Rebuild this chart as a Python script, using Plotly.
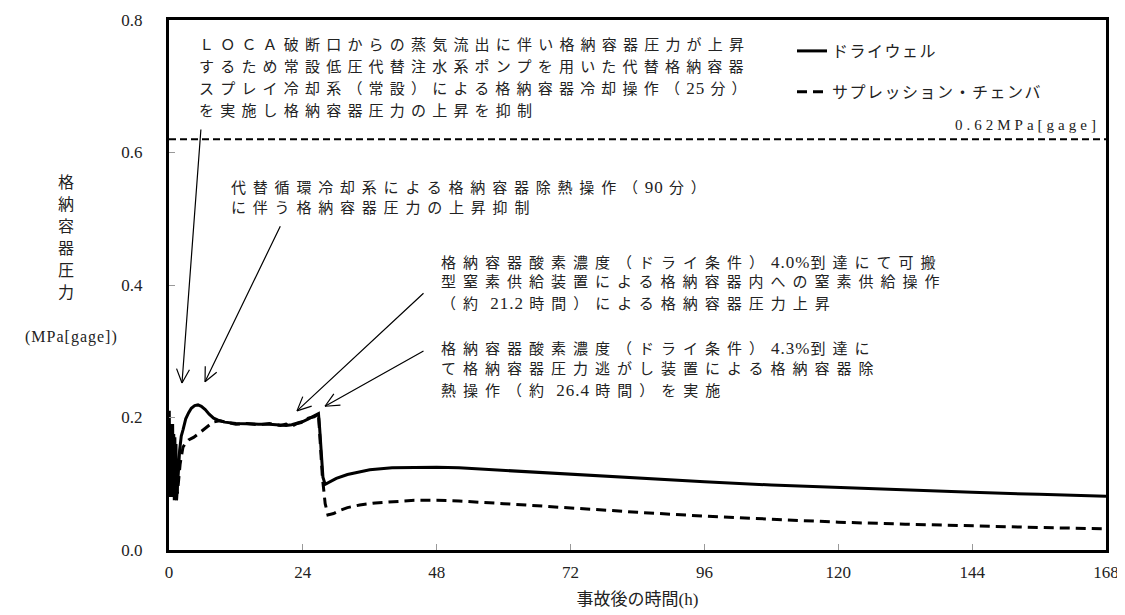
import math
import re
import plotly.graph_objects as go

# ---------------- data ----------------
time_dw = [0, 0.05, 0.15, 0.25, 0.35, 0.45, 0.55, 0.65, 0.75, 0.85, 0.95, 1.05, 1.15, 1.25, 1.35,
           1.5, 1.7, 1.9, 2.2, 2.5, 3.0, 3.5, 4.0, 4.6, 5.2, 5.8, 6.5, 7.2, 8.0, 8.8, 10, 12, 14,
           16, 18, 20, 21, 22, 23, 24, 25, 26, 26.8, 27.0, 27.3, 27.6, 28.0, 30, 32, 34, 36, 40,
           44, 48, 52, 56, 64, 72, 84, 96, 108, 120, 132, 144, 156, 168]
p_dw = [0.08, 0.21, 0.09, 0.19, 0.08, 0.18, 0.085, 0.19, 0.09, 0.175, 0.08, 0.17, 0.085, 0.16,
        0.075, 0.09, 0.12, 0.15, 0.172, 0.181, 0.198, 0.207, 0.214, 0.218, 0.219, 0.217, 0.212,
        0.205, 0.199, 0.196, 0.193, 0.191, 0.190, 0.190, 0.190, 0.189, 0.188, 0.189, 0.191,
        0.194, 0.198, 0.202, 0.206, 0.185, 0.140, 0.110, 0.099, 0.108, 0.114, 0.118, 0.121,
        0.124, 0.125, 0.125, 0.124, 0.122, 0.118, 0.114, 0.108, 0.103, 0.098, 0.094, 0.090,
        0.087, 0.084, 0.081]

time_sc = [0, 0.05, 0.15, 0.25, 0.35, 0.45, 0.55, 0.65, 0.75, 0.85, 0.95, 1.05, 1.15, 1.3,
           1.5, 1.7, 2.0, 2.5, 3.0, 3.5, 4.4, 5.2, 6.1, 7.0, 7.9, 9.0, 10, 12, 14, 16, 18, 20,
           21, 22, 23, 24, 25, 26, 26.8, 27.1, 27.5, 28.0, 28.5, 29.5, 30.7, 32, 34.2, 37, 40,
           44, 48, 52, 60, 72, 84, 96, 108, 120, 132, 144, 156, 168]
p_sc = [0.08, 0.17, 0.09, 0.175, 0.08, 0.165, 0.085, 0.17, 0.08, 0.16, 0.075, 0.15, 0.08, 0.12,
        0.085, 0.10, 0.13, 0.155, 0.162, 0.166, 0.170, 0.175, 0.181, 0.187, 0.193, 0.195,
        0.193, 0.190, 0.191, 0.189, 0.191, 0.188, 0.190, 0.187, 0.191, 0.193, 0.199, 0.201,
        0.205, 0.170, 0.110, 0.070, 0.053, 0.055, 0.060, 0.064, 0.068, 0.071, 0.073, 0.075,
        0.075, 0.074, 0.070, 0.063, 0.057, 0.051, 0.046, 0.042, 0.039, 0.036, 0.034, 0.032]

limit_value = [0.62]
x_ticks = [0, 24, 48, 72, 96, 120, 144, 168]
y_ticks = [0.0, 0.2, 0.4, 0.6, 0.8]
series_names = ["ドライウェル", "サプレッション・チェンバ"]
limit_label = "0.62MPa[gage]"
x_title = "事故後の時間(h)"
y_title_chars = "格納容器圧力"
y_unit = "(MPa[gage])"

note_loca = ["ＬＯＣＡ破断口からの蒸気流出に伴い格納容器圧力が上昇",
             "するため常設低圧代替注水系ポンプを用いた代替格納容器",
             "スプレイ冷却系（常設）による格納容器冷却操作（25 分）",
             "を実施し格納容器圧力の上昇を抑制"]
note_recirc = ["代替循環冷却系による格納容器除熱操作（90 分）",
               "に伴う格納容器圧力の上昇抑制"]
note_n2 = ["格納容器酸素濃度（ドライ条件）4.0%到達にて可搬",
           "型窒素供給装置による格納容器内への窒素供給操作",
           "（約 21.2 時間）による格納容器圧力上昇"]
note_vent = ["格納容器酸素濃度（ドライ条件）4.3%到達に",
             "て格納容器圧力逃がし装置による格納容器除",
             "熱操作（約 26.4 時間）を実施"]

# ---------------- styling helpers ----------------
SERIF = "Liberation Serif"
SERIF_TXT = "Liberation Serif, Noto Sans CJK JP"
CJK = "Noto Sans CJK JP"
TXT = "#222222"

# The page body has an 8px margin: the figure is sized so that the plot area
# sits at x 169..1106, y 20..550 in the 1125x615 window.
BODY = 8
W, H = 1125 - BODY, 615 - BODY
PL, PR, PT, PB = 169, 1106, 20, 550


def px_x(px):
    return (px - PL) / (PR - PL)


def px_y(py):
    return (PB - py) / (PB - PT)


def spaced(line, cjk=6.2, asc=1):
    parts = re.findall(r'[\x20-\x7e]+|[^\x20-\x7e]+', line)
    out = []
    for p in parts:
        if p[0].isascii():
            out.append(f'<span style="letter-spacing:{asc}px;font-size:17px">{p}</span>')
        else:
            out.append(f'<span style="letter-spacing:{cjk}px">{p}</span>')
    return "".join(out)


fig = go.Figure()

fig.add_trace(go.Scatter(x=time_dw, y=p_dw, mode="lines",
                         name=f'<span style="letter-spacing:1.5px">{series_names[0]}</span>',
                         legendgroup="a",
                         line=dict(color="black", width=3)))
fig.add_trace(go.Scatter(x=time_sc, y=p_sc, mode="lines",
                         name=f'<span style="letter-spacing:1.5px">{series_names[1]}</span>',
                         legendgroup="b",
                         line=dict(color="black", width=3, dash="10px,6px")))
fig.add_trace(go.Scatter(x=[x_ticks[0], x_ticks[-1]], y=[limit_value[0], limit_value[0]],
                         mode="lines", showlegend=False, hoverinfo="skip",
                         line=dict(color="black", width=2, dash="7px,4px")))

ann = []
# text blocks: left edge, first line centre, line pitch (px), letter spacing
blocks = [(197, 45, 22, 6.2, note_loca), (229, 187, 21, 6.8, note_recirc),
          (439, 262, 20.5, 7.0, note_n2), (439, 348, 21, 7.0, note_vent)]
for bx, by, pitch, ls, lines in blocks:
    for i, line in enumerate(lines):
        ann.append(dict(x=px_x(bx), y=px_y(by + pitch * i), xref="paper", yref="paper",
                        text=spaced(line, cjk=ls), xanchor="left", yanchor="middle",
                        showarrow=False, align="left",
                        font=dict(family=SERIF_TXT, size=15, color=TXT)))

ann.append(dict(x=px_x(1102), y=px_y(125), xref="paper", yref="paper",
                text=f'<span style="letter-spacing:4px">{limit_label}</span>',
                showarrow=False, xanchor="right",
                yanchor="middle", font=dict(family=SERIF, size=15, color=TXT)))

# y axis title, one character per row
for i, ch in enumerate(y_title_chars):
    ann.append(dict(x=px_x(66), y=px_y(181 + 22 * i), xref="paper", yref="paper",
                    text=ch, showarrow=False, xanchor="center", yanchor="middle",
                    font=dict(family=CJK, size=16, color=TXT)))
ann.append(dict(x=px_x(71), y=px_y(337), xref="paper", yref="paper",
                text=f'<span style="letter-spacing:1px">{y_unit}</span>',
                showarrow=False, xanchor="center", yanchor="middle",
                font=dict(family=SERIF, size=16, color=TXT)))

# arrows: tip (data coords) and tail offset (px)
arrows = [((2.33, 0.252), (19, -255)),
          ((6.46, 0.254), (76, -157)),
          ((22.95, 0.210), (128, -119)),
          ((27.97, 0.217), (100, -56))]
for (tx, ty), (ax, ay) in arrows:
    ann.append(dict(x=tx, y=ty, xref="x", yref="y", ax=ax, ay=ay, text="",
                    showarrow=True, arrowhead=0, arrowwidth=1.2, arrowcolor="black"))
    L = math.hypot(ax, ay)
    ux, uy = ax / L, ay / L
    for ang in (25, -25):
        r = math.radians(ang)
        vx = ux * math.cos(r) - uy * math.sin(r)
        vy = ux * math.sin(r) + uy * math.cos(r)
        ann.append(dict(x=tx, y=ty, xref="x", yref="y", ax=vx * 17, ay=vy * 17, text="",
                        showarrow=True, arrowhead=0, arrowwidth=1.2, arrowcolor="black"))

fig.update_layout(
    width=W, height=H,
    margin=dict(l=PL - BODY, r=1125 - PR, t=PT - BODY, b=615 - PB, autoexpand=False),
    paper_bgcolor="white", plot_bgcolor="white",
    annotations=ann,
    showlegend=True,
    legend=dict(x=px_x(792), y=px_y(34), xanchor="left", yanchor="top",
                bgcolor="rgba(0,0,0,0)", tracegroupgap=17,
                font=dict(family=CJK, size=16, color=TXT)),
)
fig.update_xaxes(range=[0, 168], tickvals=x_ticks, ticktext=[str(v) for v in x_ticks],
                 showgrid=False, zeroline=False, showline=True, mirror=True,
                 linecolor="black", linewidth=3, ticks="inside", ticklen=6, tickwidth=1,
                 tickcolor="#999999", ticklabelstandoff=5,
                 tickfont=dict(family=SERIF, size=17, color=TXT),
                 title=dict(text=x_title, font=dict(family=SERIF_TXT, size=17, color=TXT),
                            standoff=12))
fig.update_yaxes(range=[0, 0.8], tickvals=y_ticks, ticktext=[f"{v:.1f}" for v in y_ticks],
                 showgrid=False, zeroline=False, showline=True, mirror=True,
                 linecolor="black", linewidth=3, ticks="inside", ticklen=6, tickwidth=1,
                 tickcolor="#999999", ticklabelstandoff=20,
                 tickfont=dict(family=SERIF, size=17, color=TXT))

fig.write_html("out.html")
